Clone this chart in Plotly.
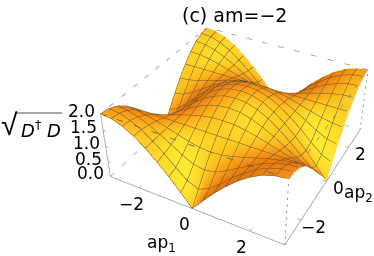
import numpy as np
import plotly.graph_objects as go

ap1 = [-3.1416,-2.7489,-2.3562,-1.9635,-1.5708,-1.1781,-0.7854,-0.3927,0.0,0.3927,0.7854,1.1781,1.5708,1.9635,2.3562,2.7489,3.1416]
ap2 = [-3.1416,-2.7489,-2.3562,-1.9635,-1.5708,-1.1781,-0.7854,-0.3927,0.0,0.3927,0.7854,1.1781,1.5708,1.9635,2.3562,2.7489,3.1416]
height = [
[2.00,1.96,1.85,1.66,1.41,1.11,0.77,0.39,0.00,0.39,0.77,1.11,1.41,1.66,1.85,1.96,2.00],
[1.96,1.93,1.82,1.65,1.41,1.14,0.83,0.54,0.39,0.54,0.83,1.14,1.41,1.65,1.82,1.93,1.96],
[1.85,1.82,1.73,1.59,1.41,1.21,1.00,0.83,0.77,0.83,1.00,1.21,1.41,1.59,1.73,1.82,1.85],
[1.66,1.65,1.59,1.51,1.41,1.31,1.21,1.14,1.11,1.14,1.21,1.31,1.41,1.51,1.59,1.65,1.66],
[1.41,1.41,1.41,1.41,1.41,1.41,1.41,1.41,1.41,1.41,1.41,1.41,1.41,1.41,1.41,1.41,1.41],
[1.11,1.14,1.21,1.31,1.41,1.51,1.59,1.65,1.66,1.65,1.59,1.51,1.41,1.31,1.21,1.14,1.11],
[0.77,0.83,1.00,1.21,1.41,1.59,1.73,1.82,1.85,1.82,1.73,1.59,1.41,1.21,1.00,0.83,0.77],
[0.39,0.54,0.83,1.14,1.41,1.65,1.82,1.93,1.96,1.93,1.82,1.65,1.41,1.14,0.83,0.54,0.39],
[0.00,0.39,0.77,1.11,1.41,1.66,1.85,1.96,2.00,1.96,1.85,1.66,1.41,1.11,0.77,0.39,0.00],
[0.39,0.54,0.83,1.14,1.41,1.65,1.82,1.93,1.96,1.93,1.82,1.65,1.41,1.14,0.83,0.54,0.39],
[0.77,0.83,1.00,1.21,1.41,1.59,1.73,1.82,1.85,1.82,1.73,1.59,1.41,1.21,1.00,0.83,0.77],
[1.11,1.14,1.21,1.31,1.41,1.51,1.59,1.65,1.66,1.65,1.59,1.51,1.41,1.31,1.21,1.14,1.11],
[1.41,1.41,1.41,1.41,1.41,1.41,1.41,1.41,1.41,1.41,1.41,1.41,1.41,1.41,1.41,1.41,1.41],
[1.66,1.65,1.59,1.51,1.41,1.31,1.21,1.14,1.11,1.14,1.21,1.31,1.41,1.51,1.59,1.65,1.66],
[1.85,1.82,1.73,1.59,1.41,1.21,1.00,0.83,0.77,0.83,1.00,1.21,1.41,1.59,1.73,1.82,1.85],
[1.96,1.93,1.82,1.65,1.41,1.14,0.83,0.54,0.39,0.54,0.83,1.14,1.41,1.65,1.82,1.93,1.96],
[2.00,1.96,1.85,1.66,1.41,1.11,0.77,0.39,0.00,0.39,0.77,1.11,1.41,1.66,1.85,1.96,2.00],
]
x_ticks = [-2, 0, 2]
y_ticks = [-2, 0, 2]
z_ticks = [0.0, 0.5, 1.0, 1.5, 2.0]
title_text = "(c) am=\u22122"

X0, X1 = -3.1416, 3.1416
Z0, Z1 = 0.0, 2.0
W, H = 482, 533
TOP = 144
FONT = "DejaVu Sans"
EPS = 0.002

Z = np.array(height)
ax, ay = np.array(ap1), np.array(ap2)
ZS, XS = 0.4 / (Z1 - Z0), 1.0 / (X1 - X0)
dzdy, dzdx = np.gradient(Z * ZS, ay * XS, ax * XS)
norm = np.sqrt(dzdx**2 + dzdy**2 + 1)
L = np.array([0.55, -0.55, 0.55])
L = L / np.linalg.norm(L)
shade = (-dzdx * L[0] - dzdy * L[1] + L[2]) / norm

fig = go.Figure()
fig.add_trace(go.Surface(
    x=ap1, y=ap2, z=height, surfacecolor=shade, cmin=0, cmax=1,
    colorscale=[[0, "rgb(226,112,10)"], [0.35, "rgb(243,140,18)"], [0.58, "rgb(252,165,25)"],
                [0.75, "rgb(255,195,32)"], [0.92, "rgb(255,228,46)"], [1, "rgb(255,236,50)"]],
    showscale=False, hoverinfo="skip",
    lighting=dict(ambient=1, diffuse=0, specular=0, fresnel=0, roughness=1),
    contours=dict(
        x=dict(show=True, start=X0, end=X1 + 0.01, size=(X1 - X0) / 16, color="#5f5230", width=2),
        y=dict(show=True, start=X0, end=X1 + 0.01, size=(X1 - X0) / 16, color="#5f5230", width=2),
        z=dict(show=False),
    ),
))

def edge(a, b, dash, color):
    fig.add_trace(go.Scatter3d(x=[a[0], b[0]], y=[a[1], b[1]], z=[a[2], b[2]], mode="lines",
                               line=dict(color=color, width=1.5, dash=dash),
                               hoverinfo="skip", showlegend=False))

solid = "#9a9a9a"
dashed = "#8c8c8c"
edge((X0, X0, Z0), (X1, X0, Z0), "solid", solid)
edge((X1, X0, Z0), (X1, X1, Z0), "solid", solid)
edge((X0, X0, Z0), (X0, X0, Z1), "solid", solid)
edge((X1, X0, Z0), (X1, X0, Z1), "longdash", "#707070")
edge((X1, X1, Z0), (X1, X1, Z1), "longdash", "#707070")
edge((X0, X1, Z0), (X0, X1, Z1), "longdash", dashed)
edge((X0, X0, Z1), (X1, X0, Z1), "longdash", "#605840")
edge((X1, X0, Z1), (X1, X1, Z1), "longdash", dashed)
edge((X1, X1, Z1), (X0, X1, Z1), "longdash", dashed)
edge((X0, X1, Z1), (X0, X0, Z1), "longdash", dashed)
edge((X0, X0, Z0), (X0, X1, Z0), "longdash", "#a8a8a8")
edge((X0, X1, Z0), (X1, X1, Z0), "longdash", "#a8a8a8")

for t in x_ticks:
    edge((t, X0, Z0), (t, X0 + 0.12, Z0), "solid", solid)
for t in y_ticks:
    edge((X1, t, Z0), (X1 - 0.12, t, Z0), "solid", solid)
for t in z_ticks:
    edge((X0, X0, t), (X0 + 0.1, X0, t), "solid", solid)

def lab(v):
    return f"\u2212{abs(v)}" if v < 0 else f"{v}"

ann3 = []
for t in x_ticks:
    ann3.append(dict(x=t, y=X0 + EPS, z=Z0 + EPS, text=lab(t), showarrow=False, xshift=-8, yshift=-16))
for t in y_ticks:
    ann3.append(dict(x=X1 - EPS, y=t, z=Z0 + EPS, text=lab(t), showarrow=False, xshift=12, yshift=-7))
for t in z_ticks:
    ann3.append(dict(x=X0 + EPS, y=X0 + EPS, z=min(t + EPS, Z1 - EPS), text=f"{t:.1f}", showarrow=False,
                     xanchor="right", xshift=-4, yshift=3))
for a in ann3:
    a["font"] = dict(family=FONT, size=17, color="black")

def P(px, py):
    return px / W, 1 - (py + TOP) / H

def text(px, py, s, size=17, family=FONT):
    fx, fy = P(px, py)
    return dict(x=fx, y=fy, xref="paper", yref="paper", text=s, showarrow=False,
                xanchor="center", yanchor="middle",
                font=dict(family=family, size=size, color="black"))

annotations = [
    text(234.5, 15, title_text, 19),
    text(161, 243, "ap<sub>1</sub>"),
    text(358, 193, "ap<sub>2</sub>"),
    text(9, 124, "\u221a", 30, "Liberation Sans"),
    text(41, 129, "<i>D</i><sup>\u2020</sup> <i>D</i>", 18),
]
x0, y0 = P(15, 113)
x1, y1 = P(62, 113)
fig.add_shape(type="line", xref="paper", yref="paper", x0=x0, y0=y0, x1=x1, y1=y1,
              line=dict(color="#555555", width=1))

fig.update_layout(
    width=W, height=H, margin=dict(l=0, r=0, t=0, b=0), showlegend=False,
    paper_bgcolor="white", annotations=annotations,
    scene=dict(
        domain=dict(x=[0, 1], y=[0, 1]),
        xaxis=dict(visible=False, range=[X0, X1]),
        yaxis=dict(visible=False, range=[X0, X1]),
        zaxis=dict(visible=False, range=[Z0, Z1]),
        aspectmode="manual", aspectratio=dict(x=1, y=1, z=0.4),
        camera=dict(eye=dict(x=1.3, y=-2.4, z=2), center=dict(x=0, y=0, z=0), up=dict(x=0, y=0, z=1)),
        annotations=ann3,
    ),
)

post = """
document.documentElement.style.overflow='hidden';
document.body.style.overflow='hidden';
document.body.style.margin='0';
document.getElementById('{plot_id}').style.marginTop='-%dpx';
""" % TOP
fig.write_html("out.html", post_script=post)
